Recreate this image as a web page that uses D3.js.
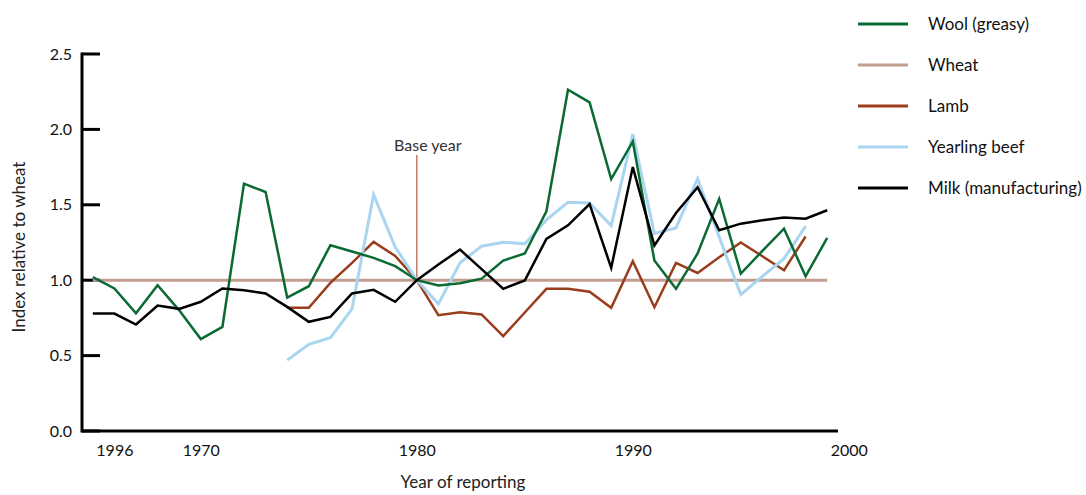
<!DOCTYPE html>
<html><head><meta charset="utf-8">
<script src="https://cdn.jsdelivr.net/npm/d3@7"></script>
<style>body{margin:0;background:#fff}svg{display:block;font-family:Lato,"Open Sans",sans-serif}</style>
</head><body>
<svg id="c" width="1086" height="495"></svg>
<script>
const years = d3.range(1965, 2000);
const wool = [1.02,0.945,0.78,0.967,0.80,0.61,0.69,1.64,1.585,0.885,0.96,1.232,1.19,1.148,1.093,1.0,0.965,0.98,1.01,1.13,1.177,1.457,2.263,2.179,1.671,1.92,1.13,0.943,1.177,1.54,1.044,1.194,1.342,1.026,1.28];
const wheat = years.map(() => 1.0);
const lambYears = d3.range(1974, 1999);
const lamb = [0.817,0.817,0.982,1.115,1.254,1.161,1.0,0.768,0.788,0.773,0.629,0.786,0.943,0.943,0.923,0.817,1.126,0.821,1.115,1.048,1.152,1.25,1.159,1.066,1.29];
const beefYears = d3.range(1974, 1999);
const beef = [0.47,0.574,0.618,0.81,1.567,1.22,1.0,0.843,1.115,1.225,1.252,1.241,1.40,1.517,1.512,1.362,1.969,1.31,1.347,1.673,1.287,0.905,1.026,1.143,1.358];
const milk = [0.779,0.779,0.706,0.832,0.81,0.857,0.945,0.934,0.912,0.823,0.724,0.757,0.912,0.936,0.857,1.0,1.104,1.203,1.073,0.943,0.998,1.274,1.364,1.505,1.082,1.75,1.23,1.446,1.616,1.331,1.375,1.397,1.415,1.408,1.464];
const xTickValues = [1966, 1970, 1980, 1990, 2000];
const xTickLabels = ["1996", "1970", "1980", "1990", "2000"];
const yTicks = [0, 0.5, 1.0, 1.5, 2.0, 2.5];
const seriesNames = ["Wool (greasy)", "Wheat", "Lamb", "Yearling beef", "Milk (manufacturing)"];
const colors = ["#0b6a33", "#c29c8e", "#993d1c", "#a9d5f0", "#000000"];
const baseYear = 1980;

const svg = d3.select("#c");
const x = d3.scaleLinear().domain([1964.5, 1999.5]).range([82, 838]);
const y = d3.scaleLinear().domain([0, 2.5]).range([431, 54]);

// axes
const yAxis = svg.append("g").attr("transform", "translate(82,0)")
  .call(d3.axisLeft(y).tickValues(yTicks).tickFormat(d3.format(".1f")).tickSize(0).tickPadding(10));
yAxis.select(".domain").remove();
yAxis.selectAll("text").attr("font-size", 16).attr("fill", "#111").attr("font-family", "Lato");
svg.selectAll(".ytick").data(yTicks).enter().append("line")
  .attr("x1", 82).attr("x2", 100).attr("y1", d => y(d)).attr("y2", d => y(d))
  .attr("stroke", "#000").attr("stroke-width", 3);
svg.append("line").attr("x1", 82).attr("x2", 82).attr("y1", y(2.5) - 1.5).attr("y2", y(0) + 1.5)
  .attr("stroke", "#000").attr("stroke-width", 3);
svg.append("line").attr("x1", 82).attr("x2", x(1999.5)).attr("y1", y(0)).attr("y2", y(0))
  .attr("stroke", "#000").attr("stroke-width", 3);

const xAxis = svg.append("g").attr("transform", "translate(0,431)")
  .call(d3.axisBottom(x).tickValues(xTickValues).tickFormat((d, i) => xTickLabels[i]).tickSize(0).tickPadding(14));
xAxis.select(".domain").remove();
xAxis.selectAll("text").attr("font-size", 16).attr("fill", "#111").attr("font-family", "Lato");

svg.append("text").attr("x", 463).attr("y", 488).attr("text-anchor", "middle")
  .attr("font-size", 17).attr("fill", "#222").text("Year of reporting");
svg.append("text").attr("transform", "translate(25,247) rotate(-90)").attr("text-anchor", "middle")
  .attr("font-size", 17).attr("fill", "#222").text("Index relative to wheat");

// base year marker
svg.append("line").attr("x1", x(baseYear)).attr("x2", x(baseYear)).attr("y1", 155).attr("y2", y(1.0))
  .attr("stroke", "#c07a66").attr("stroke-width", 1.5);
svg.append("text").attr("x", x(baseYear) + 11).attr("y", 151).attr("text-anchor", "middle")
  .attr("font-size", 16).attr("fill", "#333").text("Base year");

const line = d3.line().x(d => x(d[0])).y(d => y(d[1]));
const series = [
  {v: years.map((yr, i) => [yr, wheat[i]]), c: colors[1], w: 3},
  {v: lambYears.map((yr, i) => [yr, lamb[i]]), c: colors[2], w: 2.5},
  {v: beefYears.map((yr, i) => [yr, beef[i]]), c: colors[3], w: 3},
  {v: years.map((yr, i) => [yr, wool[i]]), c: colors[0], w: 2.5},
  {v: years.map((yr, i) => [yr, milk[i]]), c: colors[4], w: 2.5}
];
series.forEach(s => {
  svg.append("path").datum(s.v).attr("d", line).attr("fill", "none")
    .attr("stroke", s.c).attr("stroke-width", s.w).attr("stroke-linejoin", "miter");
});

// legend
const lg = svg.append("g");
seriesNames.forEach((n, i) => {
  const yy = 24 + i * 41;
  lg.append("line").attr("x1", 858).attr("x2", 908).attr("y1", yy).attr("y2", yy)
    .attr("stroke", colors[i]).attr("stroke-width", 3);
  lg.append("text").attr("x", 928).attr("y", yy).attr("dy", "0.35em")
    .attr("font-size", 17).attr("fill", "#111").text(n);
});
</script>
</body></html>
